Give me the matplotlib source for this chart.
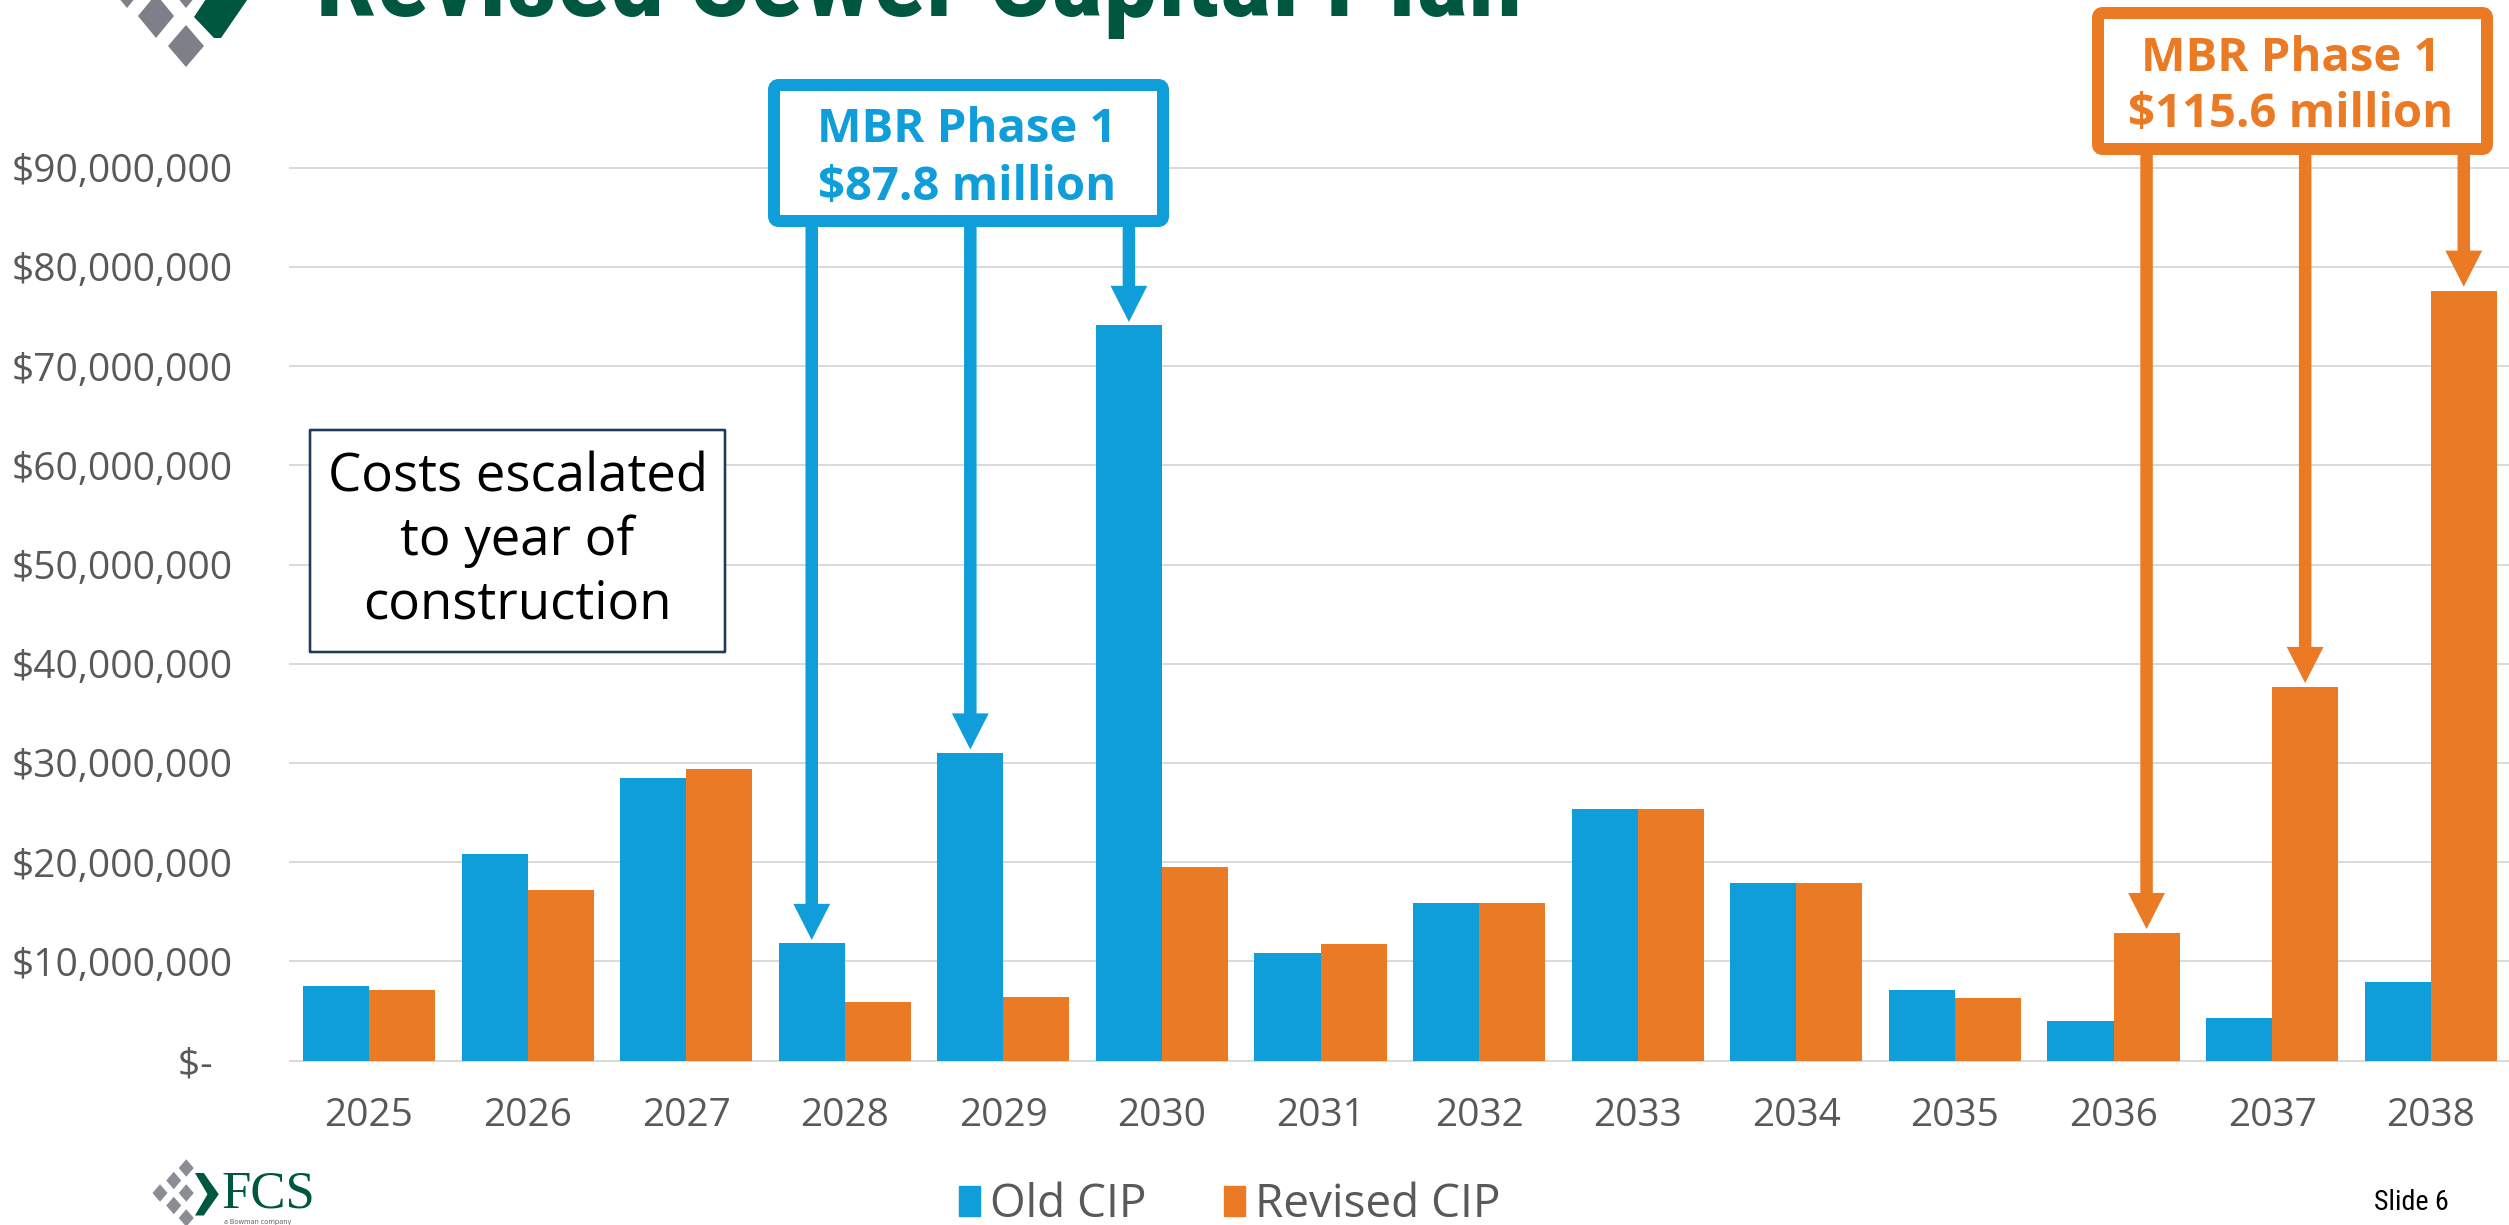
import os
import matplotlib
matplotlib.use("Agg")
import matplotlib.pyplot as plt
from matplotlib import font_manager as fm
from matplotlib.patches import FancyBboxPatch, Polygon, Rectangle, FancyArrowPatch
from matplotlib.transforms import IdentityTransform
import numpy as np

# ---------------- data ----------------
years = ['2025', '2026', '2027', '2028', '2029', '2030', '2031',
         '2032', '2033', '2034', '2035', '2036', '2037', '2038']
old_cip = [7_500_000, 20_800_000, 28_500_000, 11_800_000, 31_000_000, 74_100_000,
           10_800_000, 15_900_000, 25_350_000, 17_900_000, 7_100_000, 4_000_000,
           4_300_000, 7_900_000]
revised_cip = [7_100_000, 17_200_000, 29_400_000, 5_900_000, 6_400_000, 19_500_000,
               11_700_000, 15_900_000, 25_350_000, 17_850_000, 6_300_000, 12_850_000,
               37_650_000, 77_600_000]
y_ticks = [0, 10_000_000, 20_000_000, 30_000_000, 40_000_000, 50_000_000,
           60_000_000, 70_000_000, 80_000_000, 90_000_000]
y_tick_labels = ['$-  ', '$10,000,000', '$20,000,000', '$30,000,000', '$40,000,000',
                 '$50,000,000', '$60,000,000', '$70,000,000', '$80,000,000', '$90,000,000']
series_names = ['Old CIP', 'Revised CIP']
title = 'Revised Sewer Capital Plan'
blue_note = ['MBR Phase 1', '$87.8 million']
orange_note = ['MBR Phase 1', '$115.6 million']
blue_targets = ['2028', '2029', '2030']      # Old CIP bars
orange_targets = ['2036', '2037', '2038']    # Revised CIP bars
cost_note = ['Costs escalated', 'to year of', 'construction']

# ---------------- style ----------------
BLUE = '#0F9ED9'
ORANGE = '#EB7A24'
GREEN = '#00573F'
GRAY_LOGO = '#7D8088'
TICK = '#595959'
GRID = '#D9D9D9'
FONT = ['Open Sans', 'DejaVu Sans']
plt.rcParams['font.family'] = FONT


def wnum(w):
    if isinstance(w, (int, float)):
        return int(w)
    return fm.weight_dict.get(w, 400)


def find_narrow(target_weight):
    prefs = ['liberation sans narrow', 'arial narrow', 'roboto condensed',
             'open sans condensed', 'noto sans condensed', 'dejavu sans condensed',
             'condensed', 'narrow']
    best = None
    for f in fm.fontManager.ttflist:
        key = (f.name + ' ' + os.path.basename(f.fname)).lower()
        if 'mono' in key or 'serif' in key.replace('sans', '') or f.style != 'normal':
            continue
        if 'italic' in key or 'oblique' in key:
            continue
        is_narrow = ('narrow' in key or 'condensed' in key or
                     str(f.stretch) in ('condensed', 'semi-condensed', 'extra-condensed'))
        if not is_narrow:
            continue
        rank = next((i for i, p in enumerate(prefs) if p in key), len(prefs))
        score = (rank, abs(wnum(f.weight) - target_weight))
        if best is None or score < best[0]:
            best = (score, f.fname)
    return best[1] if best else None


W, H = 2509, 1225
fig = plt.figure(figsize=(W / 100, H / 100), dpi=100)

ax_left, ax_right, ax_top, ax_bottom = 289.7, 2510.0, 167.7, 1060.5
ax = fig.add_axes([ax_left / W, 1 - ax_bottom / H, (ax_right - ax_left) / W,
                   (ax_bottom - ax_top) / H])

x = np.arange(len(years))
bw = 0.4167
ax.bar(x - bw / 2, old_cip, bw, color=BLUE, label=series_names[0], zorder=2)
ax.bar(x + bw / 2, revised_cip, bw, color=ORANGE, label=series_names[1], zorder=2)

ax.set_xlim(-0.5, len(years) - 0.5)
ax.set_ylim(0, 90_000_000)
ax.set_xticks(x, years)
ax.set_yticks(y_ticks, y_tick_labels)
ax.yaxis.grid(True, color=GRID, lw=1.4)
ax.set_axisbelow(True)
for gl in ax.get_ygridlines():
    gl.set_clip_on(False)
for s in ax.spines.values():
    s.set_visible(False)
ax.tick_params(axis='both', length=0, labelsize=28, labelcolor=TICK)
ax.tick_params(axis='y', pad=41)
ax.tick_params(axis='x', pad=26)
for lbl in ax.get_xticklabels() + ax.get_yticklabels():
    lbl.set_family(FONT)


def pix_to_data_y(ypix_top):
    return ax.transData.inverted().transform((0, H - ypix_top))[1]


# ---------------- annotation boxes ----------------
def frame(x0, y0, x1, y1, color, lw_px, rounding):
    p = FancyBboxPatch((x0, H - y1), x1 - x0, y1 - y0,
                       boxstyle=f"round,pad=0,rounding_size={rounding}",
                       transform=IdentityTransform(), facecolor='white',
                       edgecolor=color, linewidth=lw_px * 72 / 100, zorder=5)
    fig.add_artist(p)


frame(774, 85, 1163, 221, BLUE, 12, 5)
frame(2098, 13, 2487, 149, ORANGE, 12, 5)
frame(310, 430, 725, 652, '#1F3A5C', 2.6, 0.5)


def ftext(xp, yp, s, **kw):
    return fig.text(xp / W, 1 - yp / H, s, **kw)


box_kw = dict(fontsize=34, fontweight='bold', ha='center', va='baseline', zorder=6, family=FONT)
ftext(967, 141.5, blue_note[0], color=BLUE, **box_kw)
ftext(967, 200.5, blue_note[1], color=BLUE, **box_kw)
ftext(2291, 71, orange_note[0], color=ORANGE, **box_kw)
ftext(2291, 127, orange_note[1], color=ORANGE, **box_kw)

for i, line in enumerate(cost_note):
    ftext(517.5, 492 + i * 63.5, line, fontsize=38, color='black', ha='center',
          va='baseline', zorder=6, family=FONT)


# ---------------- arrows ----------------
def arrow(xd, y_start_pix, y_end, color):
    a = FancyArrowPatch((xd, pix_to_data_y(y_start_pix)), (xd, y_end),
                        arrowstyle='simple,head_length=26,head_width=26.5,tail_width=9',
                        mutation_scale=1, color=color, lw=0, shrinkA=0, shrinkB=0,
                        transform=ax.transData, clip_on=False, zorder=4)
    ax.add_patch(a)


for yr in blue_targets:
    i = years.index(yr)
    arrow(i - bw / 2, 221, old_cip[i] + 350_000, BLUE)
for yr in orange_targets:
    i = years.index(yr)
    arrow(i + bw / 2, 149, revised_cip[i] + 400_000, ORANGE)

# ---------------- legend ----------------
handles = [Rectangle((0, 0), 1, 1, color=BLUE), Rectangle((0, 0), 1, 1, color=ORANGE)]
fig.legend(handles, series_names, loc='center', bbox_to_anchor=(1230 / W, 1 - 1205 / H),
           ncol=2, frameon=False, labelcolor=TICK, handlelength=0.45,
           handleheight=0.65, handletextpad=0.22, columnspacing=1.7,
           prop={'family': FONT, 'size': 33})

# ---------------- title & footer text ----------------
renderer = fig.canvas.get_renderer()

bold_narrow = find_narrow(700)
if bold_narrow:
    title_fp = fm.FontProperties(fname=bold_narrow, size=80)
else:
    title_fp = fm.FontProperties(family='DejaVu Sans', weight='bold', size=80)
t = ftext(315, 16, title, color=GREEN, ha='left', va='baseline', fontproperties=title_fp)
wpx = t.get_window_extent(renderer).width
t.set_fontsize(80 * 1208 / wpx)

reg_narrow = find_narrow(400)
if reg_narrow:
    slide_fp = fm.FontProperties(fname=reg_narrow, size=18)
else:
    slide_fp = fm.FontProperties(family=['Liberation Sans', 'DejaVu Sans'], size=18)
s6 = ftext(2411, 1210, 'Slide 6', color='black', ha='center', va='baseline',
           fontproperties=slide_fp)
wpx = s6.get_window_extent(renderer).width
s6.set_fontsize(18 * 75 / wpx)


# ---------------- logos ----------------
def poly(pts, color):
    fig.add_artist(Polygon([(px, H - py) for px, py in pts], closed=True,
                           transform=IdentityTransform(), facecolor=color,
                           edgecolor='none'))


def diamond(cx, cy, hw, hh, color):
    poly([(cx, cy - hh), (cx + hw, cy), (cx, cy + hh), (cx - hw, cy)], color)


# top-left logo (cropped by the slide edge)
diamond(127, -14, 18, 22, GRAY_LOGO)
diamond(186, -14, 18, 22, GRAY_LOGO)
diamond(156, 16, 18, 22, GRAY_LOGO)
diamond(186, 46, 18, 21, GRAY_LOGO)
poly([(212, -10), (254, -10), (221, 38), (214, 38), (194, 17)], GREEN)

# bottom-left logo
sc = 1.25
ox, oy = 155, 1193


def L(px, py):
    return (ox + (px - ox) * sc, oy + (py - oy) * sc)


for cx, cy in [(180, 1176), (170, 1186), (159, 1196), (180, 1196), (170, 1206), (180, 1216)]:
    X, Y = L(cx, cy - 3)
    diamond(X, Y, 6 * sc, 7 * sc, '#8A8D93')
poly([L(187, 1177), L(194, 1177), L(206, 1194), L(194, 1211), L(187, 1211), L(197, 1194)], GREEN)
ftext(L(208, 0)[0], 1207, 'FCS', fontsize=38, color=GREEN, ha='left', va='baseline',
      family=['Liberation Serif', 'DejaVu Serif'])
ftext(L(210, 0)[0], 1223.5, 'a Bowman company', fontsize=5, color=TICK, ha='left',
      va='baseline')

fig.savefig('out.png', dpi=100)
